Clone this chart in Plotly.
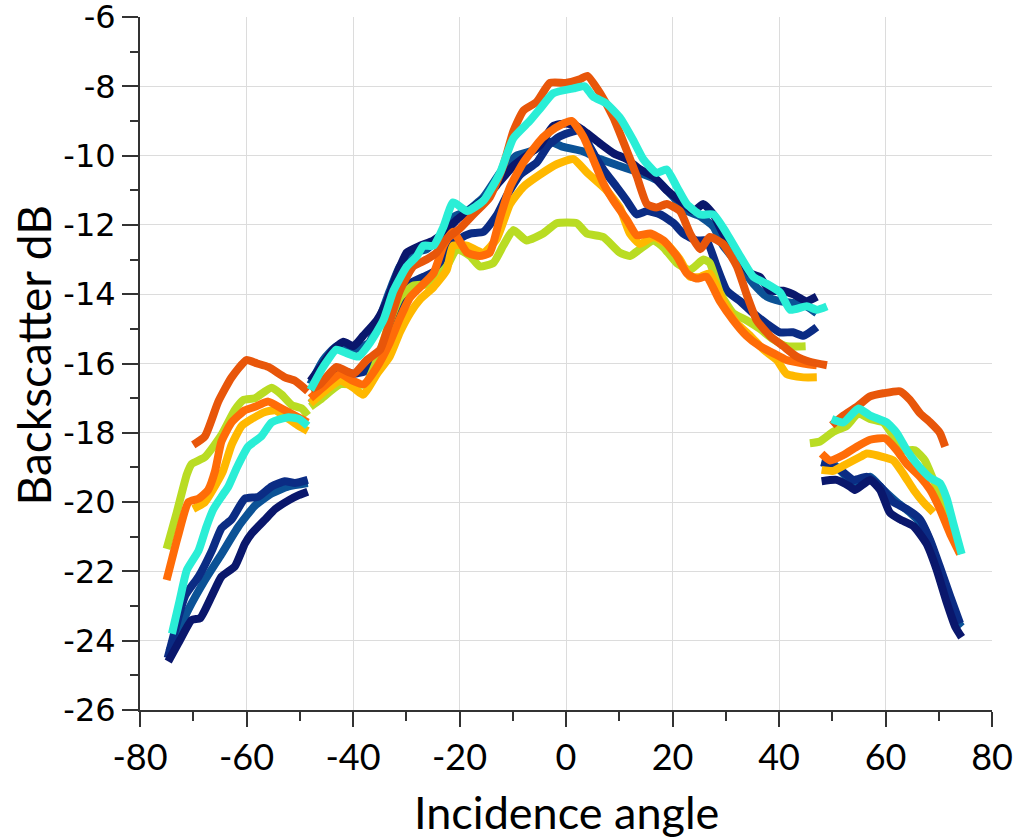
import plotly.graph_objects as go

# ---- data (incidence angle in degrees, backscatter in dB); None separates the three swaths ----
navy_angle = [-74.7, -72.8, -70.3, -68.7, -66.5, -64.7, -62.2, -60.3, -59.0, -56.5, -54.6, -52.1, -50.2, -48.5, None,
              -48.0, -45.6, -43.7, -41.8, -39.9, -38.1, -35.5, -33.6, -31.7, -29.9, -27.4, -24.9, -22.4, -20.5, -17.5, -15.0,
              -13.0, -9.9, -7.4, -4.9, -2.4, 0.0, 2.0, 3.9, 6.4, 8.9, 11.4, 13.9, 16.4, 18.9, 21.4, 23.9, 25.8, 27.7, 29.5,
              32.1, 34.6, 36.4, 38.3, 40.8, 42.6, 45.2, 47.1, None,
              48.0, 50.8, 53.3, 54.3, 57.1, 59.0, 60.8, 62.7, 65.3, 67.7, 69.6, 71.5, 73.1, 74.3]
navy_db = [-24.6, -24.07, -23.4, -23.35, -22.7, -22.15, -21.86, -21.2, -20.9, -20.5, -20.2, -19.95, -19.8, -19.7, None,
           -16.5, -16.0, -15.6, -15.37, -15.5, -15.2, -14.75, -14.2, -13.4, -12.8, -12.6, -12.45, -12.15, -11.85, -11.5, -11.2,
           -10.85, -10.3, -10.0, -9.7, -9.15, -9.07, -9.15, -9.35, -9.65, -9.93, -10.1, -10.4, -10.6, -11.0, -11.3, -11.6, -11.4, -11.7, -12.25,
           -12.8, -13.4, -13.5, -13.9, -13.9, -14.0, -14.2, -14.07, None,
           -19.4, -19.36, -19.55, -19.65, -19.36, -19.65, -20.3, -20.5, -20.7, -21.2, -21.95, -22.9, -23.6, -23.9]

dblue_angle = [-74.8, -71.5, -69.0, -66.5, -64.7, -62.8, -60.3, -57.8, -55.3, -52.8, -50.9, -48.5, None,
               -48.0, -44.9, -42.4, -39.9, -37.4, -34.9, -33.1, -31.2, -29.3, -26.8, -24.3, -22.4, -20.0, -18.0, -15.5,
               -13.0, -11.1, -8.6, -5.5, -3.3, -1.2, 1.4, 3.0, 4.5, 7.0, 9.5, 11.4, 13.3, 15.2, 17.7, 20.2, 22.0, 24.5, 26.4,
               28.3, 30.2, 32.7, 35.2, 37.7, 40.2, 42.6, 44.6, 47.1, None,
               48.0, 51.5, 54.0, 56.5, 59.0, 61.5, 64.0, 66.5, 68.4, 70.2, 72.1, 74.0]
dblue_db = [-24.5, -22.7, -22.15, -21.4, -20.75, -20.5, -19.9, -19.85, -19.55, -19.4, -19.45, -19.36, None,
            -17.15, -16.7, -16.2, -16.3, -16.2, -15.8, -15.1, -14.35, -13.7, -13.5, -13.3, -12.7, -12.4, -12.25, -12.2,
            -11.72, -11.15, -10.55, -10.2, -9.7, -9.45, -9.3, -9.25, -9.75, -10.4, -10.9, -11.3, -11.7, -11.6, -11.7, -11.95, -12.25, -12.45, -12.45,
            -13.2, -13.9, -14.2, -14.55, -14.85, -15.1, -15.1, -15.2, -14.95, None,
            -18.85, -19.07, -19.36, -19.27, -19.55, -20.0, -20.2, -20.5, -21.1, -21.86, -22.7, -23.5]

mblue_angle = [-74.5, -73.0, -70.9, -67.8, -64.7, -61.5, -58.4, -55.3, -52.1, -48.5, None,
               -48.0, -45.6, -43.0, -40.0, -37.0, -34.9, -33.1, -31.2, -28.7, -26.2, -23.7, -21.5, -18.6, -15.5, -12.4,
               -9.3, -6.1, -3.0, -0.5, 3.25, 6.4, 10.1, 13.9, 17.0, 20.2, 22.7, 25.2, 27.7, 29.5, 32.7, 35.2, 37.7, 40.2,
               42.6, 45.2, 47.1, None,
               48.0, 50.2, 52.7, 55.2, 57.1, 59.6, 62.1, 64.6, 67.1, 69.0, 70.2, 71.5, 72.7, 74.3]
mblue_db = [-24.3, -23.8, -23.1, -22.25, -21.5, -20.7, -20.1, -19.75, -19.55, -19.45, None,
            -16.6, -15.9, -15.5, -15.6, -15.4, -14.65, -13.9, -13.2, -12.8, -12.7, -12.35, -11.8, -11.6, -11.2, -10.5,
            -10.0, -9.85, -9.6, -9.75, -9.88, -10.1, -10.3, -10.5, -10.7, -11.2, -11.6, -11.75, -12.05, -12.6, -13.2, -13.7, -14.07, -14.2,
            -14.25, -14.35, -14.55, None,
            -18.8, -18.9, -19.27, -19.45, -19.27, -19.65, -20.0, -20.3, -20.7, -21.4, -22.05, -22.7, -23.3, -23.6]

lime_angle = [-75.0, -73.1, -71.2, -70.3, -67.8, -64.7, -62.2, -60.6, -58.4, -55.3, -53.4, -51.5, -49.6, -48.5, None,
              -48.0, -46.2, -42.4, -37.7, -35.5, -33.1, -31.2, -28.7, -25.5, -22.4, -20.5, -18.0, -16.2, -13.65, -11.8,
              -9.9, -7.4, -4.3, -1.75, 2.0, 3.9, 7.0, 10.1, 12.0, 13.9, 16.4, 18.3, 20.8, 23.3, 25.8, 27.0, 28.9, 31.4,
              33.9, 36.4, 38.9, 41.4, 45.0, None,
              45.8, 47.7, 50.2, 52.7, 54.9, 57.1, 59.6, 61.5, 63.4, 65.5, 67.4, 69.0, 70.9, 72.7, 74.0]
lime_db = [-21.35, -20.3, -19.2, -18.9, -18.7, -18.06, -17.34, -17.05, -17.0, -16.7, -16.9, -17.2, -17.3, -17.5, None,
           -17.25, -17.05, -16.6, -16.6, -15.9, -14.8, -14.1, -13.75, -13.7, -13.2, -12.7, -12.9, -13.2, -13.1, -12.6,
           -12.15, -12.45, -12.25, -11.95, -11.95, -12.25, -12.35, -12.8, -12.9, -12.7, -12.45, -12.65, -13.1, -13.3, -13.0, -13.1, -13.95, -14.55,
           -14.75, -15.0, -15.3, -15.5, -15.5, None,
           -18.3, -18.25, -17.97, -17.8, -17.44, -17.6, -17.7, -18.1, -18.5, -18.5, -18.8, -19.36, -20.0, -20.8, -21.5]

yellow_angle = [-70.0, -67.8, -65.6, -64.4, -62.8, -60.9, -59.0, -56.5, -54.6, -52.1, -50.2, -48.5, None,
                -48.0, -44.9, -42.4, -39.9, -38.1, -35.5, -33.1, -31.2, -29.3, -27.4, -24.9, -22.4, -21.2, -18.6, -15.5,
                -13.0, -10.5, -8.0, -4.9, -1.75, 1.4, 4.0, 7.6, 10.1, 12.0, 13.9, 16.4, 18.9, 21.4, 23.3, 25.2, 27.0, 29.5,
                32.1, 34.6, 37.1, 39.6, 41.4, 44.6, 47.1, None,
                48.0, 50.2, 52.7, 55.2, 56.5, 59.6, 61.5, 63.4, 65.3, 67.1, 69.0]
yellow_db = [-20.2, -20.0, -19.45, -19.1, -18.35, -17.8, -17.6, -17.4, -17.35, -17.6, -17.8, -17.95, None,
             -17.15, -16.75, -16.5, -16.7, -16.9, -16.3, -15.8, -15.1, -14.55, -14.15, -13.8, -13.3, -12.6, -12.6, -12.8,
             -12.4, -11.4, -10.9, -10.55, -10.25, -10.1, -10.5, -11.0, -11.5, -12.25, -12.55, -12.35, -12.55, -13.0, -13.5, -13.5, -13.4, -14.2,
             -14.85, -15.2, -15.6, -15.9, -16.3, -16.4, -16.4, None,
             -19.07, -19.1, -18.9, -18.7, -18.6, -18.7, -18.8, -19.2, -19.65, -20.0, -20.3]

orange_angle = [-75.0, -72.9, -70.9, -69.0, -67.2, -65.9, -64.7, -62.8, -60.3, -58.4, -55.9, -53.4, -50.9, -48.5, None,
                -48.0, -45.0, -42.4, -40.0, -38.0, -35.5, -33.1, -31.2, -29.3, -27.4, -24.9, -23.0, -21.2, -18.6, -16.2,
                -14.3, -12.4, -10.5, -8.0, -4.5, -2.0, 1.0, 3.25, 5.1, 7.0, 8.9, 11.4, 13.3, 15.8, 18.3, 20.8, 22.7, 24.5,
                26.4, 28.9, 31.4, 33.9, 36.4, 38.9, 41.4, 44.6, 47.1, None,
                48.0, 49.6, 52.1, 54.6, 57.1, 59.9, 62.1, 64.0, 66.5, 68.4, 70.2, 72.1, 74.0]
orange_db = [-22.25, -21.0, -20.0, -19.9, -19.65, -19.1, -18.25, -17.7, -17.35, -17.25, -17.1, -17.3, -17.5, -17.7, None,
             -17.0, -16.6, -16.3, -16.5, -16.6, -16.1, -15.4, -14.7, -14.1, -13.8, -13.4, -12.6, -12.2, -12.8, -12.9,
             -12.8, -11.8, -10.9, -10.2, -9.5, -9.2, -9.0, -9.45, -10.1, -10.8, -11.3, -11.85, -12.3, -12.25, -12.45, -12.9, -13.4, -13.55,
             -13.5, -14.2, -14.75, -15.2, -15.5, -15.7, -15.9, -16.0, -16.05, None,
             -18.6, -18.8, -18.64, -18.4, -18.2, -18.16, -18.5, -18.9, -19.27, -19.65, -20.2, -20.9, -21.5]

red_angle = [-70.0, -67.8, -65.3, -62.8, -60.0, -58.0, -55.9, -52.8, -50.9, -48.5, None,
             -48.0, -46.2, -43.1, -39.9, -37.4, -34.9, -33.1, -31.2, -28.7, -26.2, -24.3, -22.4, -19.9, -17.4, -14.3,
             -11.8, -9.9, -8.0, -5.5, -3.0, 0.1, 2.6, 4.0, 6.4, 8.9, 11.4, 13.3, 15.2, 17.0, 18.9, 21.4, 23.3, 25.2,
             27.0, 29.5, 32.1, 33.9, 35.8, 38.3, 40.8, 43.3, 45.8, 49.0, None,
             49.9, 52.1, 54.6, 57.1, 59.6, 62.7, 64.6, 66.5, 68.4, 70.2, 71.2]
red_db = [-18.35, -18.1, -17.1, -16.4, -15.9, -16.0, -16.1, -16.4, -16.5, -16.8, None,
          -16.75, -16.6, -16.1, -16.3, -15.9, -15.6, -14.8, -13.9, -13.2, -13.0, -12.8, -12.4, -12.1, -11.7, -11.2,
          -10.3, -9.3, -8.7, -8.45, -7.9, -7.9, -7.8, -7.7, -8.2, -8.9, -9.85, -10.6, -11.4, -11.5, -11.4, -11.6, -12.25, -12.7,
          -12.35, -12.55, -13.2, -14.0, -14.75, -15.2, -15.5, -15.8, -15.95, -16.05, None,
          -17.78, -17.5, -17.25, -16.95, -16.86, -16.8, -17.05, -17.44, -17.7, -18.0, -18.4]

cyan_angle = [-74.0, -72.5, -71.2, -69.0, -67.5, -66.2, -64.5, -63.4, -61.8, -59.7, -57.2, -55.3, -52.1, -50.2, -48.5, None,
              -48.0, -45.6, -43.1, -41.2, -39.0, -36.8, -34.3, -32.4, -29.9, -28.0, -26.8, -24.9, -23.0, -21.2, -18.6,
              -15.5, -12.4, -9.9, -6.8, -4.9, -2.4, 1.4, 3.5, 5.1, 7.6, 10.1, 12.6, 14.5, 17.0, 18.9, 20.8, 22.7, 25.2,
              27.7, 30.2, 32.7, 35.2, 37.7, 40.2, 42.1, 45.2, 47.1, 49.0, None,
              49.9, 52.1, 54.9, 57.1, 60.2, 62.1, 64.0, 65.9, 68.4, 70.2, 71.5, 72.7, 74.3]
cyan_db = [-23.8, -22.8, -21.96, -21.4, -20.7, -20.2, -19.8, -19.55, -19.0, -18.4, -18.1, -17.7, -17.55, -17.6, -17.8, None,
           -16.76, -16.1, -15.6, -15.7, -15.8, -15.4, -14.75, -13.9, -13.2, -12.9, -12.6, -12.6, -12.05, -11.35, -11.6,
           -11.3, -10.5, -9.5, -9.0, -8.65, -8.2, -8.06, -8.0, -8.3, -8.5, -8.9, -9.55, -10.1, -10.5, -10.4, -10.9, -11.4, -11.7,
           -11.7, -12.25, -12.9, -13.5, -13.7, -13.95, -14.45, -14.35, -14.45, -14.35, None,
           -17.6, -17.7, -17.3, -17.5, -17.7, -18.0, -18.5, -18.9, -19.3, -19.45, -19.9, -20.6, -21.5]

series = [
    ("mblue", mblue_angle, mblue_db, "#0b5296"),
    ("dblue", dblue_angle, dblue_db, "#0b2c84"),
    ("navy", navy_angle, navy_db, "#0a176c"),
    ("lime", lime_angle, lime_db, "#b9dc23"),
    ("yellow", yellow_angle, yellow_db, "#ffb800"),
    ("orange", orange_angle, orange_db, "#ff6c08"),
    ("red", red_angle, red_db, "#e8560a"),
    ("cyan", cyan_angle, cyan_db, "#2aeed6"),
]

x_ticks = [-80, -60, -40, -20, 0, 20, 40, 60, 80]
y_ticks = [-26, -24, -22, -20, -18, -16, -14, -12, -10, -8, -6]
x_title = "Incidence angle"
y_title = "Backscatter dB"

fig = go.Figure()
for name, xa, ya, col in series:
    fig.add_trace(go.Scatter(x=xa, y=ya, mode="lines", name=name, connectgaps=False,
                             line=dict(color=col, width=8, shape="spline", smoothing=0.5),
                             showlegend=False, hoverinfo="skip"))

fig.update_layout(
    width=1019, height=838,
    margin=dict(l=140, r=27, t=17, b=128),
    paper_bgcolor="white", plot_bgcolor="white",
    showlegend=False,
)
fig.update_xaxes(
    range=[-80, 80], tickvals=x_ticks, ticktext=[str(v) for v in x_ticks], automargin=False,
    ticklabeloverflow="allow",
    showgrid=True, gridcolor="#dcdcdc", gridwidth=1, zeroline=False,
    showline=True, linecolor="#333333", linewidth=2,
    ticks="outside", ticklen=15, tickwidth=1.5, tickcolor="#333333",
    minor=dict(dtick=10, ticks="outside", ticklen=9, tickwidth=1.5, tickcolor="#333333", showgrid=False),
    tickfont=dict(family="Lato, sans-serif", size=36, color="black"),
)
fig.update_yaxes(
    range=[-26, -6], tickvals=y_ticks, ticktext=[str(v) for v in y_ticks], automargin=False,
    ticklabeloverflow="allow",
    showgrid=True, gridcolor="#dcdcdc", gridwidth=1, zeroline=False,
    showline=True, linecolor="#333333", linewidth=2,
    ticks="outside", ticklen=16, tickwidth=1.5, tickcolor="#333333",
    minor=dict(dtick=1, ticks="outside", ticklen=8, tickwidth=1.5, tickcolor="#333333", showgrid=False),
    tickfont=dict(family="DejaVu Sans, sans-serif", size=32, color="black"),
)
fig.add_annotation(text=x_title, xref="paper", yref="paper", x=0.5, y=-0.147,
                   showarrow=False, xanchor="center", yanchor="middle",
                   font=dict(family="Lato, sans-serif", size=45, color="black"))
fig.add_annotation(text=y_title, xref="paper", yref="paper", x=-0.125, y=0.511, textangle=-90,
                   showarrow=False, xanchor="center", yanchor="middle",
                   font=dict(family="Lato, sans-serif", size=46, color="black"))

# remove the page's default 8px body margin so the figure sits at the window's top-left corner
fig.write_html("out.html", config={"displayModeBar": False},
               post_script="document.body.style.margin='0';document.body.style.overflow='hidden';")
